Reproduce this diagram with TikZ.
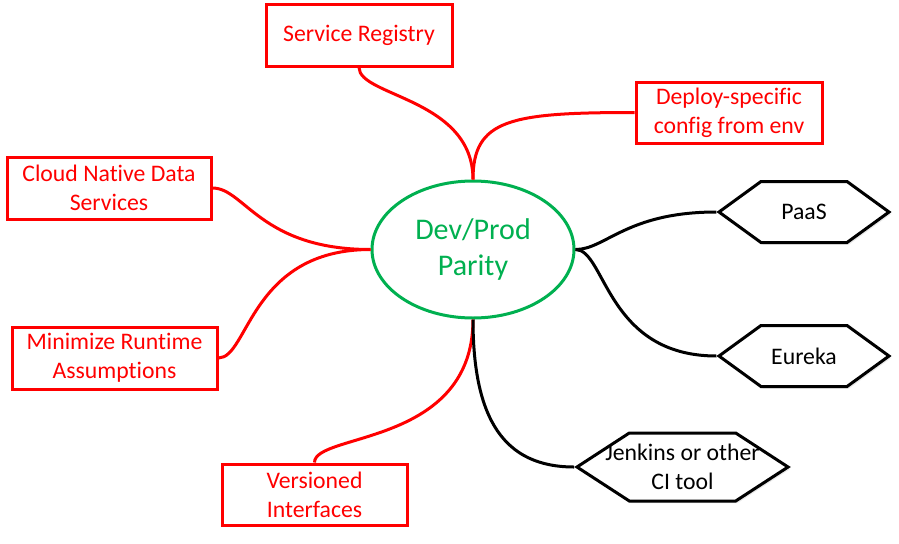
\documentclass[tikz,border=0pt]{standalone}
\usepackage{fontspec}
\setmainfont{Carlito}[Ligatures=NoCommon]
\usepackage{tikz}
\usetikzlibrary{shapes.geometric,shapes.symbols,shadows}

\definecolor{parityred}{RGB}{255,0,0}
\definecolor{paritygreen}{RGB}{0,176,80}

\tikzset{
  redbox/.style={draw=parityred, line width=2.25pt, fill=white, text=parityred,
    align=center, inner sep=2pt, font=\fontsize{17.8}{21.7}\selectfont,
    drop shadow={opacity=0.18, shadow xshift=1.5pt, shadow yshift=-1.5pt}},
  hexbox/.style={signal, signal to=west and east, signal pointer angle=72,
    draw=black, line width=2.25pt, fill=white, align=center, inner sep=1pt,
    font=\fontsize{17.8}{21.7}\selectfont,
    drop shadow={opacity=0.18, shadow xshift=1.5pt, shadow yshift=-1.5pt}},
  redlink/.style={draw=parityred, line width=2.25pt},
  blacklink/.style={draw=black, line width=2.25pt},
}

\begin{document}
\begin{tikzpicture}[x=0.75pt,y=0.75pt,yscale=-1,xscale=1]
\useasboundingbox (0,0) rectangle (899,543);

%Shape: Ellipse [id:dev]
\node (dev) at (473,249.5) [ellipse, draw=paritygreen, line width=2.25pt, fill=white,
  minimum width=151.5pt, minimum height=102.75pt, inner sep=0pt, text=paritygreen,
  align=center, font=\fontsize{22.5}{27}\selectfont] {Dev/Prod\\Parity};

%Shape: Rectangle [id:reg]
\node (reg) at (359,35) [redbox, minimum width=139.5pt, minimum height=46.5pt] {Service Registry};
%Shape: Rectangle [id:deploy]
\node (deploy) at (729,112.5) [redbox, minimum width=139.5pt, minimum height=45.75pt] {Deploy-specific\\config from env};
%Shape: Rectangle [id:cloud]
\node (cloud) at (109,188) [redbox, minimum width=153pt, minimum height=46.5pt] {Cloud Native Data\\Services};
%Shape: Rectangle [id:minrt]
\node (minrt) at (114.5,358) [redbox, minimum width=153.75pt, minimum height=46.5pt] {Minimize Runtime\\Assumptions};
%Shape: Rectangle [id:vers]
\node (vers) at (314.5,494.5) [redbox, minimum width=138.75pt, minimum height=45.75pt] {Versioned\\Interfaces};

%Shape: Hexagon [id:paas]
\node (paas) at (804,212) [hexbox, minimum width=127.5pt, minimum height=45.75pt] {PaaS};
%Shape: Hexagon [id:eureka]
\node (eureka) at (804,356) [hexbox, minimum width=127.5pt, minimum height=45.75pt] {Eureka};
%Shape: Hexagon [id:jenkins]
\node (jenkins) at (682.5,467) [hexbox, signal pointer angle=66, inner xsep=-18pt, minimum height=51pt] {Jenkins or other\\CI tool};

%Curve Lines [id:reg-dev]
\draw [redlink] (reg.south) .. controls +(0,29) and +(0,-81) .. (dev.north);
%Curve Lines [id:deploy-dev]
\draw [redlink] (deploy.west) .. controls +(-125,0) and +(0,-60) .. (dev.north);
%Curve Lines [id:cloud-dev]
\draw [redlink] (cloud.east) .. controls +(32,0) and +(-110,0) .. (dev.west);
%Curve Lines [id:minrt-dev]
\draw [redlink] (minrt.east) .. controls +(30,0) and +(-120,0) .. (dev.west);
%Curve Lines [id:vers-dev]
\draw [redlink] (vers.north) .. controls +(0,-30) and +(0,127) .. (dev.south);
%Curve Lines [id:dev-paas]
\draw [blacklink] (dev.east) .. controls +(30,0) and +(-90,0) .. (paas.west);
%Curve Lines [id:dev-eureka]
\draw [blacklink] (dev.east) .. controls +(30,0) and +(-110,0) .. (eureka.west);
%Curve Lines [id:dev-jenkins]
\draw [blacklink] (dev.south) .. controls +(0,100) and +(-70,0) .. (jenkins.west);

\end{tikzpicture}
\end{document}
